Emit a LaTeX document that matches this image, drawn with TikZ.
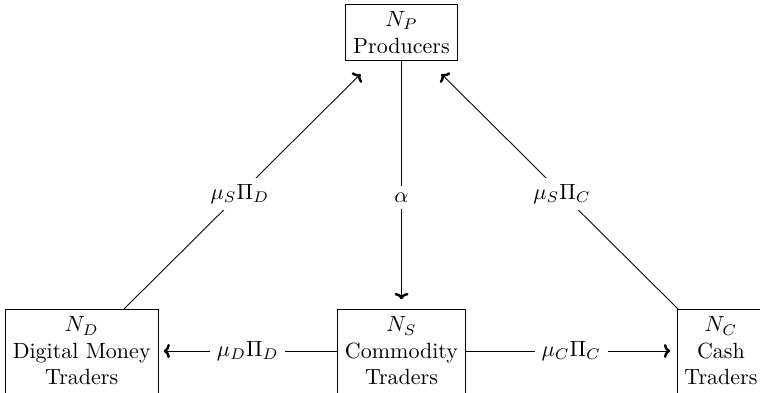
\documentclass[tikz,border=0pt]{standalone}
\usetikzlibrary{calc,arrows.meta}
\begin{document}
\begin{tikzpicture}[x=0.4545pt,y=-0.4545pt,
  box/.style={draw,align=center,inner sep=3.33pt},
  lbl/.style={fill=white,inner sep=3pt},
  arr/.style={-{To[length=2.8pt,width=6.4pt,line width=1.1pt]}}]
\useasboundingbox (0,0) rectangle (760,393);
\node[box] (P) at (401.5,32.5) {$N_P$\\Producers};
\node[box,anchor=north] (S) at (401.5,309) {$N_S$\\Commodity\\Traders\rule[-3pt]{0pt}{0pt}};
\node[box,anchor=north] (D) at (81.7,309) {$N_D$\\Digital Money\\Traders\rule[-3pt]{0pt}{0pt}};
\node[box,anchor=north west] (C) at (676.7,309) {$N_C$\\Cash\\Traders\rule[-3pt]{0pt}{0pt}};
\draw[arr] ($(D.north)+(42.3,0)$) -- node[lbl,pos=0.49]{$\mu_S\Pi_D$} ($(P.south west)+(15,13)$);
\draw[arr] ($(C.north west)+(1.3,0)$) -- node[lbl,pos=0.49]{$\mu_S\Pi_C$} ($(P.south east)+(-16,13)$);
\draw[arr,shorten >=4.5pt] (P.south) -- node[lbl,pos=0.55]{$\alpha$} (S.north);
\draw[arr,shorten >=2.4pt] ($(S.north west)!0.5!(S.south west)+(0,-3)$) -- node[lbl]{$\mu_D\Pi_D$} ($(D.north east)!0.5!(D.south east)+(0,-3)$);
\draw[arr,shorten >=3pt] ($(S.north east)!0.5!(S.south east)+(0,-3)$) -- node[lbl]{$\mu_C\Pi_C$} ($(C.north west)!0.5!(C.south west)+(0,-3)$);
\end{tikzpicture}
\end{document}
